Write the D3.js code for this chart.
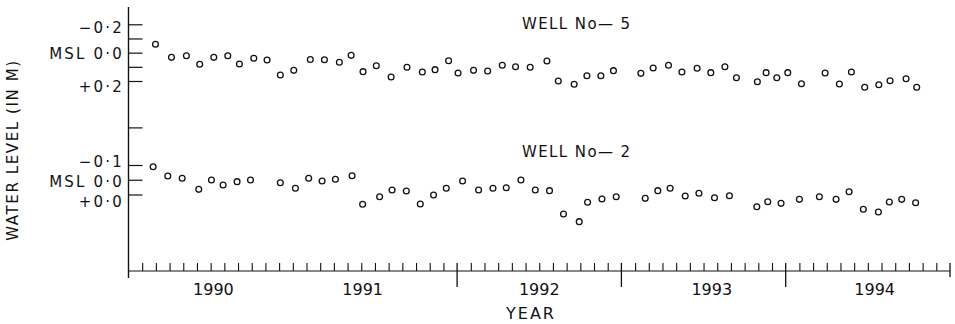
<!DOCTYPE html>
<html>
<head>
<meta charset="utf-8">
<script src="https://cdn.jsdelivr.net/npm/d3@7"></script>
<style>
  body { margin: 0; background: #fff; }
  text { font-family: "DejaVu Sans", sans-serif; fill: #111; }
</style>
</head>
<body>
<svg id="chart" width="955" height="324"></svg>
<script>
// time is counted in months from January 1990
const w5Month = [1.97, 3.14, 4.23, 5.2, 6.23, 7.25, 8.1, 9.15, 10.12, 11.09, 12.07, 13.28, 14.31, 15.4,
    16.26, 17.13, 18.1, 19.18, 20.34, 21.46, 22.39, 23.38, 24.07, 25.2, 26.23, 27.3, 28.27, 29.34,
    30.56, 31.39, 32.55, 33.48, 34.5, 35.42, 37.42, 38.32, 39.44, 40.42, 41.53, 42.53, 43.56, 44.4,
    45.93, 46.57, 47.35, 48.15, 49.15, 50.88, 51.92, 52.8, 53.77, 54.8, 55.62, 56.79, 57.57];
const w5Level = [-0.059, 0.033, 0.022, 0.082, 0.033, 0.022, 0.08, 0.04, 0.052, 0.158, 0.125, 0.048, 0.05, 0.068,
    0.019, 0.134, 0.092, 0.172, 0.103, 0.137, 0.12, 0.057, 0.144, 0.125, 0.129, 0.089, 0.099, 0.103,
    0.059, 0.2, 0.223, 0.163, 0.163, 0.127, 0.146, 0.108, 0.089, 0.137, 0.11, 0.141, 0.099, 0.177,
    0.205, 0.141, 0.177, 0.141, 0.219, 0.144, 0.221, 0.137, 0.244, 0.226, 0.198, 0.184, 0.244];

const w2Month = [1.8, 2.87, 3.92, 5.13, 6.06, 6.91, 7.93, 8.91, 11.09, 12.19, 13.16, 14.14, 15.11, 16.33,
    17.1, 18.34, 19.25, 20.29, 21.31, 22.28, 23.21, 24.4, 25.57, 26.62, 27.59, 28.66, 29.71, 30.75,
    31.77, 32.92, 33.53, 34.58, 35.62, 37.74, 38.66, 39.56, 40.66, 41.66, 42.8, 43.89, 45.89, 46.69,
    47.66, 49.0, 50.46, 51.68, 52.63, 53.67, 54.77, 55.57, 56.47, 57.49];
const w2Level = [-0.088, -0.025, -0.01, 0.065, 0.002, 0.036, 0.013, 0.002, 0.02, 0.058, -0.01, 0.008, -0.003, -0.027,
    0.166, 0.115, 0.069, 0.076, 0.164, 0.103, 0.058, 0.008, 0.069, 0.058, 0.054, 0.002, 0.069, 0.074,
    0.232, 0.284, 0.153, 0.131, 0.115, 0.126, 0.074, 0.058, 0.11, 0.092, 0.122, 0.108, 0.183, 0.149,
    0.16, 0.133, 0.115, 0.133, 0.081, 0.2, 0.219, 0.151, 0.133, 0.156];

const years = ['1990', '1991', '1992', '1993', '1994'];
const yearLabelMonth = [6.2, 17.1, 30, 42.6, 54.5];
const majorMonths = [24, 36, 48];
const endMonth = 60;

// tick marks, and where (in level units) each hand-lettered label sits
const w5Ticks = [-0.2, -0.1, 0, 0.1, 0.2];
const w5LabelAt = [-0.174, 0.005, 0.243];
const w5LabelText = ['\u22120\u00b72', 'MSL\u00a00\u00b70', '+0\u00b72'];
const w2Ticks = [-0.355, -0.1, 0, 0.1];
const w2LabelAt = [-0.12, 0.015, 0.151];
const w2LabelText = ['\u22120\u00b71', 'MSL\u00a00\u00b70', '+0\u00b70'];

const svg = d3.select('#chart');
const ink = '#111';

const x = d3.scaleLinear().domain([0, 60]).range([128.5, 950]);
const y5 = d3.scaleLinear().domain([-0.2, 0.2]).range([24.3, 81]);
const y2 = d3.scaleLinear().domain([-0.1, 0.1]).range([165, 194.5]);
const axisY = 271;

// vertical axis line
svg.append('line')
    .attr('x1', x(0)).attr('x2', x(0))
    .attr('y1', 7).attr('y2', 278)
    .attr('stroke', ink).attr('stroke-width', 1.4);

// y ticks for both wells
function yTicks(scale, values, labelAt, labelText, label, labelY) {
    const g = svg.append('g').attr('transform', `translate(${x(0)},0)`);
    g.call(d3.axisRight(scale).tickValues(values).tickSize(14).tickSizeOuter(0).tickFormat(''));
    g.select('.domain').remove();
    g.selectAll('.tick line').attr('stroke', ink).attr('stroke-width', 1.2);

    svg.selectAll(null)
        .data(labelAt)
        .enter().append('text')
        .attr('x', 124)
        .attr('y', d => scale(d))
        .attr('dy', '0.36em')
        .attr('text-anchor', 'end')
        .style('font-size', '15px')
        .style('letter-spacing', '2.2px')
        .text((d, i) => labelText[i]);

    svg.append('text')
        .attr('x', 522)
        .attr('y', labelY)
        .style('font-size', '15px')
        .style('letter-spacing', '1.4px')
        .text(label);
}
yTicks(y5, w5Ticks, w5LabelAt, w5LabelText, 'WELL No\u2014 5', 29);
yTicks(y2, w2Ticks, w2LabelAt, w2LabelText, 'WELL No\u2014 2', 157);

// x axis: line, monthly ticks, yearly ticks
svg.append('line')
    .attr('x1', x(0)).attr('x2', x(endMonth))
    .attr('y1', axisY).attr('y2', axisY)
    .attr('stroke', ink).attr('stroke-width', 1.2);

const months = d3.range(1, endMonth).filter(m => !majorMonths.includes(m));
const gx = svg.append('g').attr('transform', `translate(0,${axisY})`);
gx.call(d3.axisTop(x).tickValues(months).tickSize(8).tickSizeOuter(0).tickFormat(''));
gx.select('.domain').remove();
gx.selectAll('.tick line').attr('stroke', ink).attr('stroke-width', 1.1);

svg.selectAll('.major')
    .data(majorMonths)
    .enter().append('line')
    .attr('class', 'major')
    .attr('x1', d => x(d)).attr('x2', d => x(d))
    .attr('y1', axisY - 8).attr('y2', axisY + 16)
    .attr('stroke', ink).attr('stroke-width', 1.3);

svg.append('line')
    .attr('x1', x(endMonth)).attr('x2', x(endMonth))
    .attr('y1', axisY - 8).attr('y2', axisY + 6)
    .attr('stroke', ink).attr('stroke-width', 1.3);

svg.selectAll('.year')
    .data(years)
    .enter().append('text')
    .attr('class', 'year')
    .attr('x', (d, i) => x(yearLabelMonth[i]))
    .attr('y', 295)
    .attr('text-anchor', 'middle')
    .style('font-size', '16px')
    .text(d => d);

svg.append('text')
    .attr('x', 531)
    .attr('y', 319)
    .attr('text-anchor', 'middle')
    .style('font-size', '16px')
    .style('letter-spacing', '2px')
    .text('YEAR');

svg.append('text')
    .attr('transform', 'translate(18,150) rotate(-90)')
    .attr('text-anchor', 'middle')
    .style('font-size', '15px')
    .style('letter-spacing', '1.6px')
    .text('WATER LEVEL (IN M)');

// observations
function dots(months, levels, scale) {
    svg.append('g')
        .selectAll('circle')
        .data(months)
        .enter().append('circle')
        .attr('cx', d => x(d))
        .attr('cy', (d, i) => scale(levels[i]))
        .attr('r', 2.9)
        .attr('fill', 'none')
        .attr('stroke', ink)
        .attr('stroke-width', 1.3);
}
dots(w5Month, w5Level, y5);
dots(w2Month, w2Level, y2);
</script>
</body>
</html>
